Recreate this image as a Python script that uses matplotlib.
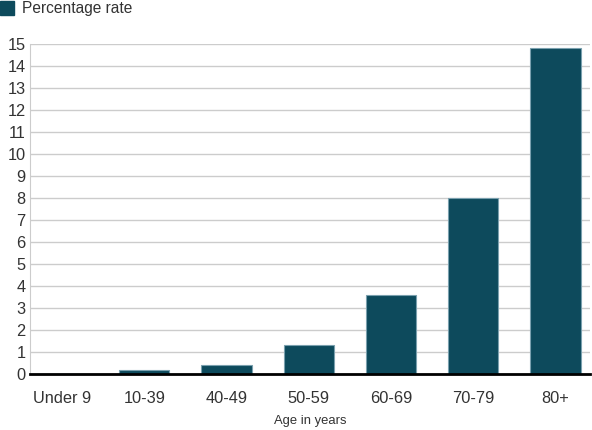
import matplotlib.pyplot as plt
from matplotlib.patches import Rectangle

plt.rcParams['font.family'] = ['Liberation Sans', 'DejaVu Sans']

categories = ['Under 9', '10-39', '40-49', '50-59', '60-69', '70-79', '80+']
rates = [0.0, 0.2, 0.4, 1.3, 3.6, 8.0, 14.8]
yticks = list(range(0, 16))

bar_color = '#0d4a5c'
edge_color = '#7aa0ae'

fig = plt.figure(figsize=(5.92, 4.30), dpi=100)
ax = fig.add_axes([0.0507, 0.130, 0.946, 0.768])

x = list(range(len(categories)))
ax.bar(x, rates, width=0.61, color=bar_color, edgecolor=edge_color, linewidth=0.8, zorder=3)

ax.set_xlim(-0.39, 6.42)
ax.set_ylim(0, 15)
ax.set_yticks(yticks)
ax.set_xticks(x)
ax.set_xticklabels(categories)
ax.grid(axis='y', color='#cccccc', linewidth=1, zorder=0)
ax.tick_params(axis='both', length=0, labelsize=11.8, colors='#333333')
ax.tick_params(axis='x', pad=12)
ax.tick_params(axis='y', pad=3)

for s in ['top', 'right']:
    ax.spines[s].set_visible(False)
ax.spines['left'].set_color('#cccccc')
ax.spines['bottom'].set_color('black')
ax.spines['bottom'].set_linewidth(2)
ax.spines['bottom'].set_zorder(4)

ax.set_xlabel('Age in years', fontsize=9.4, color='#333333', labelpad=7)

# legend
fig.patches.append(Rectangle((0.0, 1 - 15 / 430), 14 / 592, 14 / 430,
                             transform=fig.transFigure, color=bar_color))
fig.text(22 / 592, 1 - 8 / 430, 'Percentage rate', fontsize=11.2,
         va='center', ha='left', color='#333333')

fig.savefig('out.png', dpi=100)
